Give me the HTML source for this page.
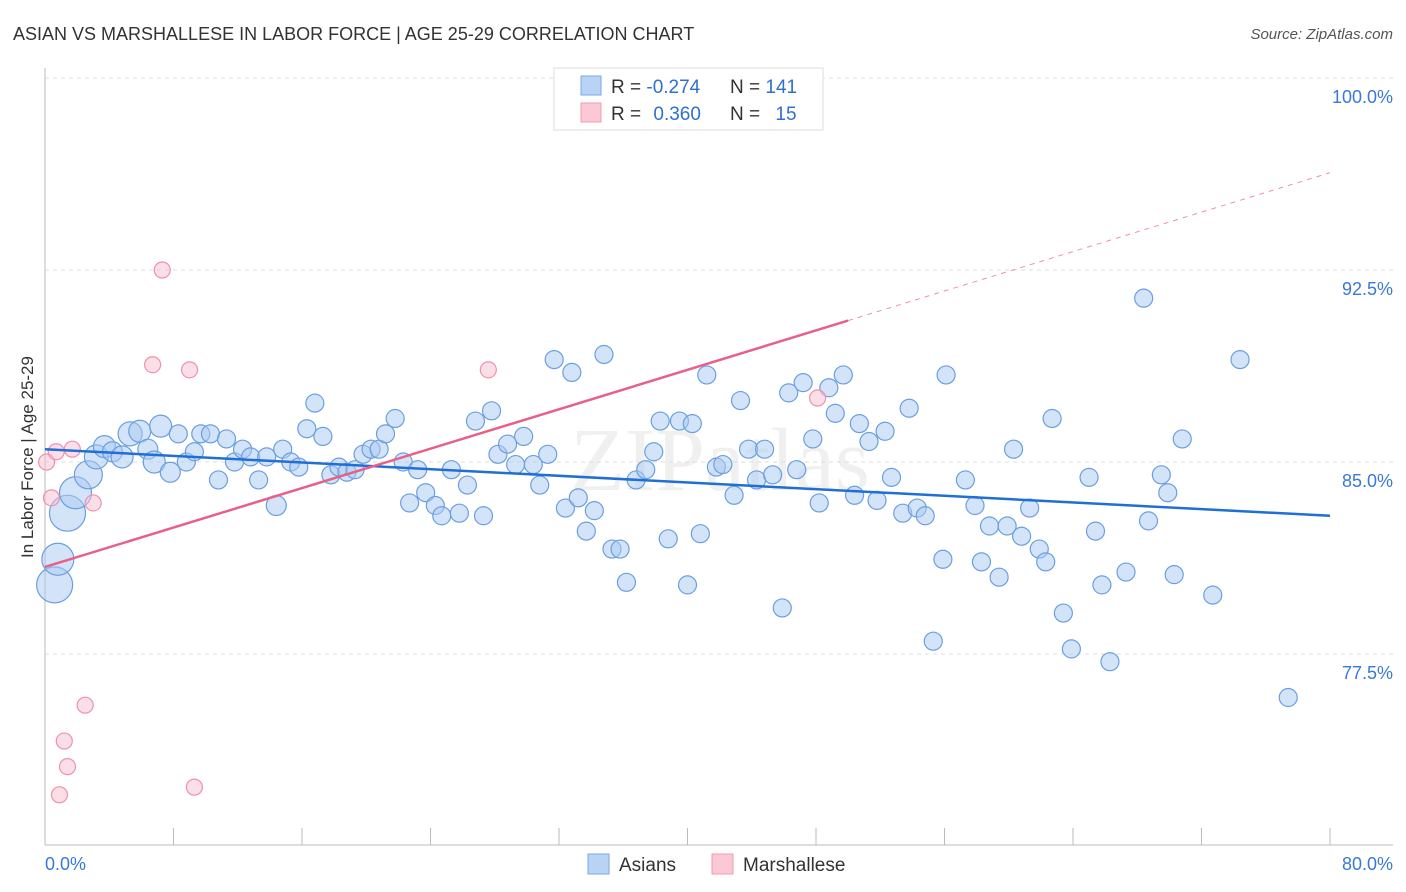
<!DOCTYPE html>
<html><head><meta charset="utf-8"><style>
body{margin:0;background:#fff;font-family:"Liberation Sans",sans-serif}
svg{display:block}
</style></head><body>
<svg id="chart" width="1406" height="892" xmlns="http://www.w3.org/2000/svg" font-family="Liberation Sans, sans-serif">
<text x="13" y="40" font-size="18" fill="#333">ASIAN VS MARSHALLESE IN LABOR FORCE | AGE 25-29 CORRELATION CHART</text>
<text x="1393" y="39" font-size="15" fill="#555" text-anchor="end" font-style="italic">Source: ZipAtlas.com</text>
<text x="720" y="490" font-size="90" fill="#000" fill-opacity="0.06" text-anchor="middle" font-family="Liberation Serif, serif">ZIPatlas</text>
<g id="grid"></g><g id="axes"></g><g id="marks"></g>
<text transform="translate(33,457) rotate(-90)" font-size="17" fill="#333" text-anchor="middle">In Labor Force | Age 25-29</text>
<g>
<rect x="554" y="68" width="269" height="62" fill="#fff" stroke="#ddd"/>
<rect x="581" y="76" width="20" height="19" fill="#b8d3f5" stroke="#7aaae6"/>
<rect x="581" y="103" width="20" height="19" fill="#fbc8d6" stroke="#f09ab5"/>
<text x="611" y="93" font-size="19" fill="#333">R = <tspan fill="#2f6fd0">-0.274</tspan></text>
<text x="730" y="93" font-size="19" fill="#333">N = <tspan fill="#2f6fd0">141</tspan></text>
<text x="611" y="120" font-size="19" fill="#333">R = <tspan fill="#2f6fd0" dx="7">0.360</tspan></text>
<text x="730" y="120" font-size="19" fill="#333">N = <tspan fill="#2f6fd0" dx="10">15</tspan></text>
</g>
<g>
<rect x="588" y="854" width="21" height="20" fill="#b8d3f5" stroke="#7aaae6"/>
<text x="619" y="871" font-size="19" fill="#333">Asians</text>
<rect x="712" y="854" width="21" height="20" fill="#fbc8d6" stroke="#f09ab5"/>
<text x="743" y="871" font-size="19" fill="#333">Marshallese</text>
</g>
</svg>
<script>
const asianX=[0.6,0.8,1.4,1.9,2.7,3.2,3.7,4.2,4.8,5.3,5.9,6.4,6.8,7.2,7.8,8.3,8.8,9.3,9.7,10.3,10.8,11.3,11.8,12.3,12.8,13.3,13.8,14.4,14.8,15.3,15.8,16.3,16.8,17.3,17.8,18.3,18.8,19.3,19.8,20.3,20.8,21.2,21.8,22.3,22.7,23.2,23.7,24.3,24.7,25.3,25.8,26.3,26.8,27.3,27.8,28.2,28.8,29.3,29.8,30.4,30.8,31.3,31.7,32.4,32.8,33.2,33.7,34.2,34.8,35.3,35.8,36.2,36.8,37.4,37.9,38.3,38.8,39.5,40.0,40.3,40.8,41.2,41.8,42.2,42.9,43.3,43.8,44.3,44.8,45.3,45.9,46.3,46.8,47.2,47.8,48.2,48.8,49.2,49.7,50.4,50.7,51.3,51.8,52.3,52.7,53.4,53.8,54.3,54.8,55.3,55.9,56.1,57.3,57.9,58.3,58.8,59.4,59.9,60.3,60.8,61.3,61.9,62.3,62.7,63.4,63.9,65.0,65.4,65.8,66.3,67.3,68.4,68.7,69.5,69.9,70.3,70.8,72.7,74.4,77.4];
const asianY=[80.2,81.2,83.0,83.8,84.5,85.2,85.6,85.4,85.2,86.1,86.2,85.5,85.0,86.4,84.6,86.1,85.0,85.4,86.1,86.1,84.3,85.9,85.0,85.5,85.2,84.3,85.2,83.3,85.5,85.0,84.8,86.3,87.3,86.0,84.5,84.8,84.6,84.7,85.3,85.5,85.5,86.1,86.7,85.0,83.4,84.7,83.8,83.3,82.9,84.7,83.0,84.1,86.6,82.9,87.0,85.3,85.7,84.9,86.0,84.9,84.1,85.3,89.0,83.2,88.5,83.6,82.3,83.1,89.2,81.6,81.6,80.3,84.3,84.7,85.4,86.6,82.0,86.6,80.2,86.5,82.2,88.4,84.8,84.9,83.7,87.4,85.5,84.3,85.5,84.5,79.3,87.7,84.7,88.1,85.9,83.4,87.9,86.9,88.4,83.7,86.5,85.8,83.5,86.2,84.4,83.0,87.1,83.2,82.9,78.0,81.2,88.4,84.3,83.3,81.1,82.5,80.5,82.5,85.5,82.1,83.2,81.6,81.1,86.7,79.1,77.7,84.4,82.3,80.2,77.2,80.7,91.4,82.7,84.5,83.8,80.6,85.9,79.8,89.0,75.8];
const asianSize=[18,16,18,16,14,12,11,10,11,12,11,10,11,11,10,9,9,9,9,9,9,9,9,9,9,9,9,10];
const marshX=[0.1,0.4,0.7,0.9,1.2,1.4,1.7,2.5,3.0,6.7,7.3,9.0,9.3,27.6,48.1];
const marshY=[85.0,83.6,85.4,72.0,74.1,73.1,85.5,75.5,83.4,88.8,92.5,88.6,72.3,88.6,87.5];
const asianTrend=[85.5,82.9];
const marshTrend=[80.9,96.3];
const yTicks=[100,92.5,85,77.5];
const yTickLabels=["100.0%","92.5%","85.0%","77.5%"];
const xTickVals=[0,8,16,24,32,40,48,56,64,72,80];

const NS="http://www.w3.org/2000/svg";
const X0=45,X1=1330,YTOP=78,PX_PER=25.6;
const sx=v=>X0+(v/80)*(X1-X0);
const sy=v=>YTOP+(100-v)*PX_PER;
function mk(tag,attrs,parent){const e=document.createElementNS(NS,tag);for(const k in attrs)e.setAttribute(k,attrs[k]);parent.appendChild(e);return e;}
const grid=document.getElementById('grid'),axes=document.getElementById('axes'),marks=document.getElementById('marks');
yTicks.forEach((t,i)=>{
 const l=mk('line',{x1:X0,x2:1393,y1:sy(t),y2:sy(t),stroke:'#ddd','stroke-dasharray':'4,4'},grid);
 
 
 const tx=mk('text',{x:1393,y:sy(t)+25,'font-size':18,fill:'#3a78d8','text-anchor':'end'},axes);
 tx.textContent=yTickLabels[i];
 
 
});
const ya=mk('line',{x1:X0,x2:X0,y1:68,y2:845,stroke:'#bbb'},axes);


const xa=mk('line',{x1:X0,x2:1393,y1:845,y2:845,stroke:'#bbb'},axes);


xTickVals.forEach(v=>{if(v===0)return;
 const t=mk('line',{x1:sx(v),x2:sx(v),y1:828,y2:845,stroke:'#bbb'},axes);
 
 
});
[[0,"0.0%",'start',45],[80,"80.0%",'end',1393]].forEach(a=>{
 const t=mk('text',{x:a[3],y:870,'font-size':18,fill:'#3a78d8','text-anchor':a[2]},axes);
 t.textContent=a[1];
 
 
});
asianX.forEach((x,i)=>{
 const c=mk('circle',{cx:sx(x),cy:sy(asianY[i]),r:asianSize[i]||9,fill:'#a9c9f1','fill-opacity':0.5,stroke:'#6a9fe0','stroke-width':1.2},marks);
 
 
});
marshX.forEach((x,i)=>{
 const c=mk('circle',{cx:sx(x),cy:sy(marshY[i]),r:8,fill:'#f8c0d0','fill-opacity':0.5,stroke:'#f090ae','stroke-width':1.2},marks);
 
 
});
const bl=mk('line',{x1:sx(0),y1:sy(asianTrend[0]),x2:sx(80),y2:sy(asianTrend[1]),stroke:'#1f6fd6','stroke-width':2.5},marks);


const pm=v=>marshTrend[0]+(marshTrend[1]-marshTrend[0])*v/80;
const pl=mk('line',{x1:sx(0),y1:sy(pm(0)),x2:sx(50),y2:sy(pm(50)),stroke:'#e8608a','stroke-width':2.5},marks);


const pd=mk('line',{x1:sx(50),y1:sy(pm(50)),x2:sx(80),y2:sy(pm(80)),stroke:'#e8608a','stroke-width':1,'stroke-dasharray':'5,5','stroke-opacity':0.7},marks);


</script>
</body></html>
